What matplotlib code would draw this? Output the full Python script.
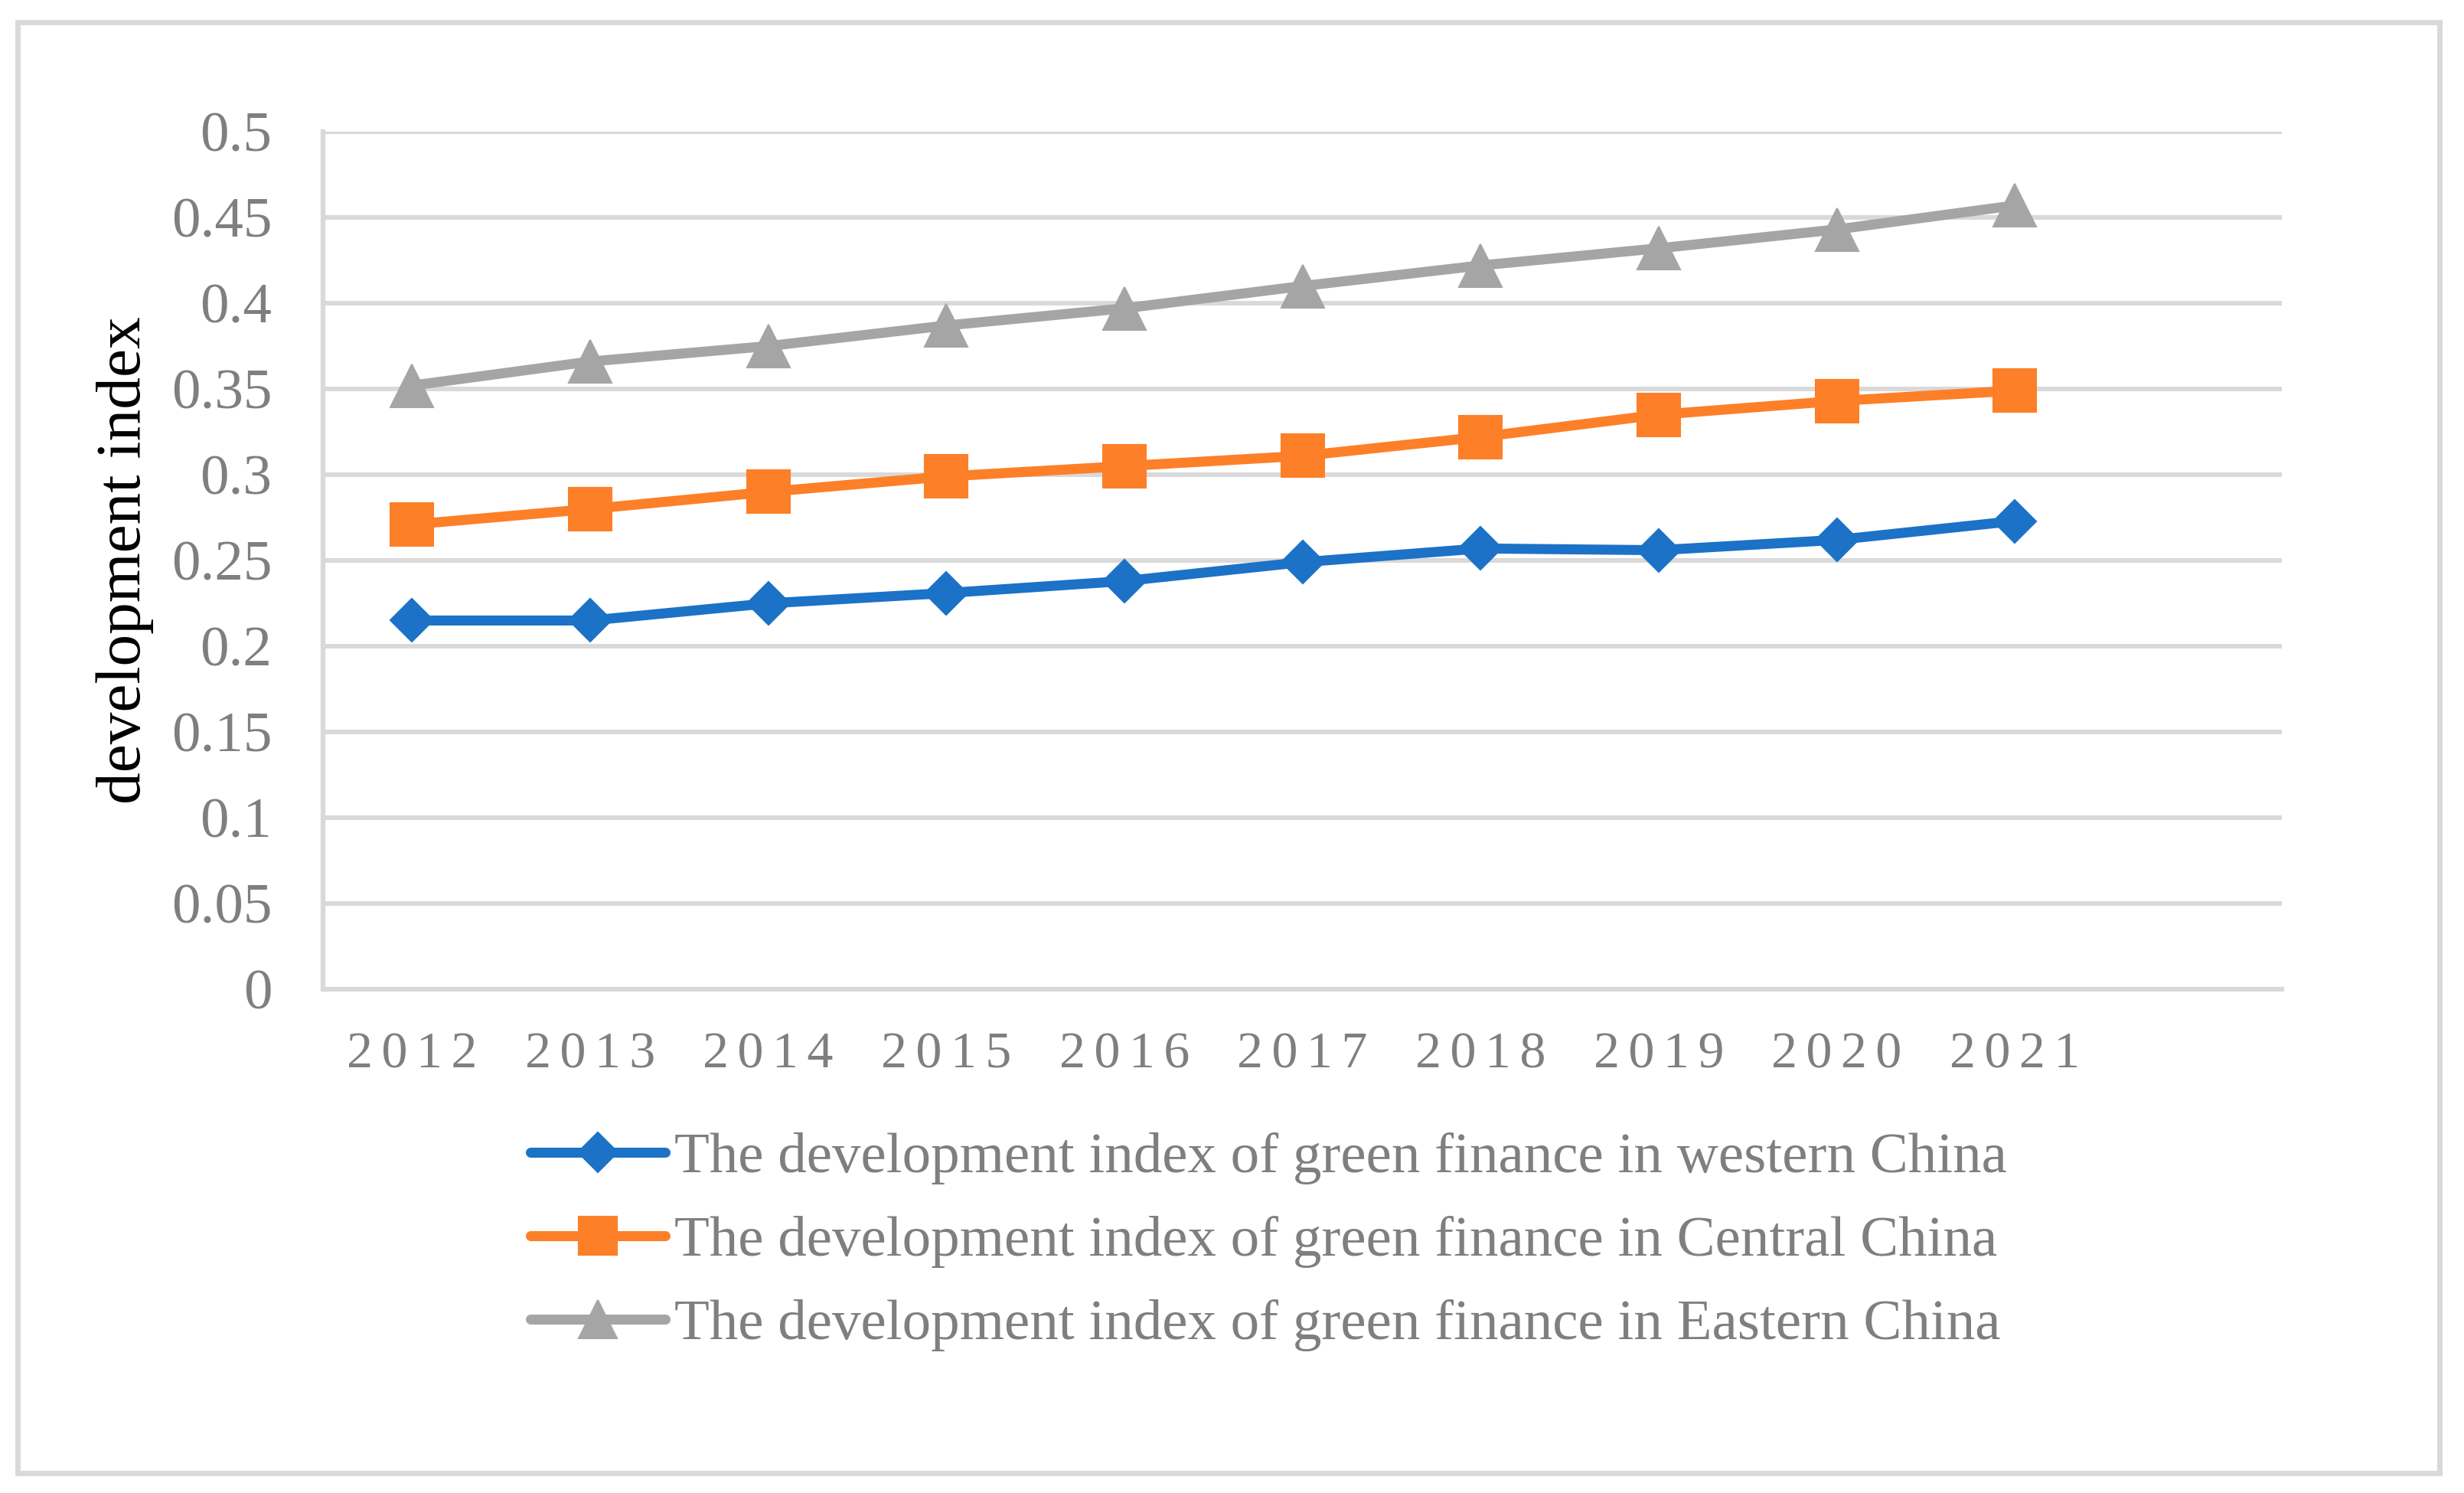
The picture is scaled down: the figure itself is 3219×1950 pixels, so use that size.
import matplotlib
matplotlib.use("Agg")
import matplotlib.pyplot as plt
from matplotlib.patches import Rectangle

years = ["2012", "2013", "2014", "2015", "2016", "2017", "2018", "2019", "2020", "2021"]
western = [0.215, 0.215, 0.225, 0.231, 0.238, 0.249, 0.257, 0.256, 0.262, 0.273]
central = [0.271, 0.280, 0.290, 0.299, 0.305, 0.311, 0.322, 0.335, 0.343, 0.349]
eastern = [0.352, 0.366, 0.375, 0.387, 0.397, 0.410, 0.422, 0.432, 0.443, 0.457]
yticks = [0, 0.05, 0.1, 0.15, 0.2, 0.25, 0.3, 0.35, 0.4, 0.45, 0.5]
ytick_labels = ["0", "0.05", "0.1", "0.15", "0.2", "0.25", "0.3", "0.35", "0.4", "0.45", "0.5"]

labels = [
    "The development index of green finance in western China",
    "The development index of green finance in Central China",
    "The development index of green finance in Eastern China",
]
colors = ["#1B72C6", "#FD7F28", "#A5A5A5"]
markers = ["D", "s", "^"]
msizes = [29, 40, 40]

plt.rcParams['font.family'] = ['Liberation Serif', 'DejaVu Serif']
grid_c = "#D9D9D9"
text_c = "#7F7F7F"

fig = plt.figure(figsize=(32.19, 19.5), dpi=100)
# outer frame round the whole chart
fig.patches.append(Rectangle((23 / 3219, 1 - 1924 / 1950), (3187 - 23) / 3219, (1924 - 29) / 1950,
                             transform=fig.transFigure, fill=False, edgecolor=grid_c, linewidth=5))

ax = fig.add_axes([0.1311, 0.3374, 0.7950, 0.5744])
x = list(range(len(years)))
for vals, lab, c, m, ms in zip([western, central, eastern], labels, colors, markers, msizes):
    ax.plot(x, vals, color=c, lw=9.4, marker=m, markersize=ms, markeredgewidth=1.5,
            markeredgecolor=c, label=lab, solid_capstyle='round', solid_joinstyle='round')

ax.set_xlim(-0.5, 10.5)
ax.set_ylim(0, 0.5)
ax.set_yticks(yticks)
ax.set_yticklabels(ytick_labels)
ax.set_xticks(x)
ax.set_xticklabels(["\u2006".join(y) for y in years])
ax.tick_params(axis='y', length=0, pad=48, labelsize=54, labelcolor=text_c)
ax.tick_params(axis='x', length=0, pad=40, labelsize=49, labelcolor=text_c)
ax.grid(axis='y', color=grid_c, lw=4.3)
ax.set_axisbelow(True)
for s in ["top", "right"]:
    ax.spines[s].set_visible(False)
for s in ["left", "bottom"]:
    ax.spines[s].set_color(grid_c)
    ax.spines[s].set_linewidth(4.5)

fig.text(163 / 3219, 0.6246, "development index", rotation=90, ha='center', va='center',
         fontsize=60, color='black')

leg = fig.legend(loc='upper left', bbox_to_anchor=(0.2153, 0.2416), frameon=False,
                 fontsize=54, handlelength=2.35, handletextpad=0.16, labelspacing=0.54,
                 borderpad=0, borderaxespad=0, markerscale=0.9)
for t in leg.get_texts():
    t.set_color(text_c)

fig.savefig("out.png", dpi=100, facecolor="white")
